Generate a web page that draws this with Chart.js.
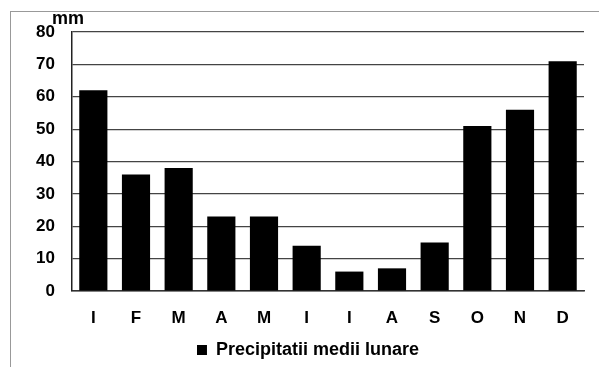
<!DOCTYPE html>
<html>
<head>
<meta charset="utf-8">
<script src="https://cdn.jsdelivr.net/npm/chart.js@4"></script>
<style>
  body { margin: 0; background: #fff; }
  #wrap { position: relative; width: 599px; height: 367px; }
  #frame { position: absolute; left: 10px; top: 11px; right: 0; bottom: 0;
           border-top: 1px solid #999; border-left: 1px solid #999; pointer-events: none; }
</style>
</head>
<body>
<div id="wrap">
  <canvas id="rainChart" width="599" height="367"></canvas>
  <div id="frame"></div>
</div>
<script>
// monthly data
const months = ['I', 'F', 'M', 'A', 'M', 'I', 'I', 'A', 'S', 'O', 'N', 'D'];
const rainfall = [62, 36, 38, 23, 23, 14, 6, 7, 15, 51, 56, 71];
const yTicks = [0, 10, 20, 30, 40, 50, 60, 70, 80];
const seriesName = 'Precipitatii medii lunare';
const unitLabel = 'mm';

const family = '"Liberation Sans", Arial, sans-serif';
const tickFont = { family: family, size: 17, weight: 'bold' };
const legendFont = { family: family, size: 18, weight: 'bold' };

// draws the "mm" unit above the y axis
const unitPlugin = {
    id: 'unitLabel',
    afterDraw(chart) {
        const c = chart.ctx;
        c.save();
        c.font = 'bold 18px ' + family;
        c.fillStyle = '#000';
        c.textAlign = 'left';
        c.textBaseline = 'alphabetic';
        c.fillText(unitLabel, chart.chartArea.left - 20, chart.chartArea.top - 8);
        c.restore();
    }
};

const ctx = document.getElementById('rainChart').getContext('2d');
new Chart(ctx, {
    type: 'bar',
    data: {
        labels: months,
        datasets: [{
            label: seriesName,
            data: rainfall,
            backgroundColor: '#000',
            borderWidth: 0,
            barPercentage: 0.66,
            categoryPercentage: 1
        }]
    },
    options: {
        responsive: false,
        animation: false,
        layout: { padding: { top: 32, right: 15, bottom: -2, left: 32 } },
        plugins: {
            legend: {
                position: 'bottom',
                labels: { color: '#000', font: legendFont, boxWidth: 10, boxHeight: 10, padding: 2 }
            },
            tooltip: { enabled: false }
        },
        scales: {
            x: {
                grid: { display: false, drawTicks: false },
                border: { color: '#333', width: 1.5 },
                ticks: { color: '#000', font: tickFont, padding: 17, maxRotation: 0 },
                afterFit: s => { s.height = 48; }
            },
            y: {
                min: 0, max: 80,
                afterBuildTicks: s => { s.ticks = yTicks.map(v => ({ value: v })); },
                grid: { color: '#444', lineWidth: 1.2, drawTicks: false },
                border: { color: '#222', width: 1.5 },
                ticks: { color: '#000', font: tickFont, padding: 17 },
                afterFit: s => { s.width = 40; }
            }
        }
    },
    plugins: [unitPlugin]
});
</script>
</body>
</html>
